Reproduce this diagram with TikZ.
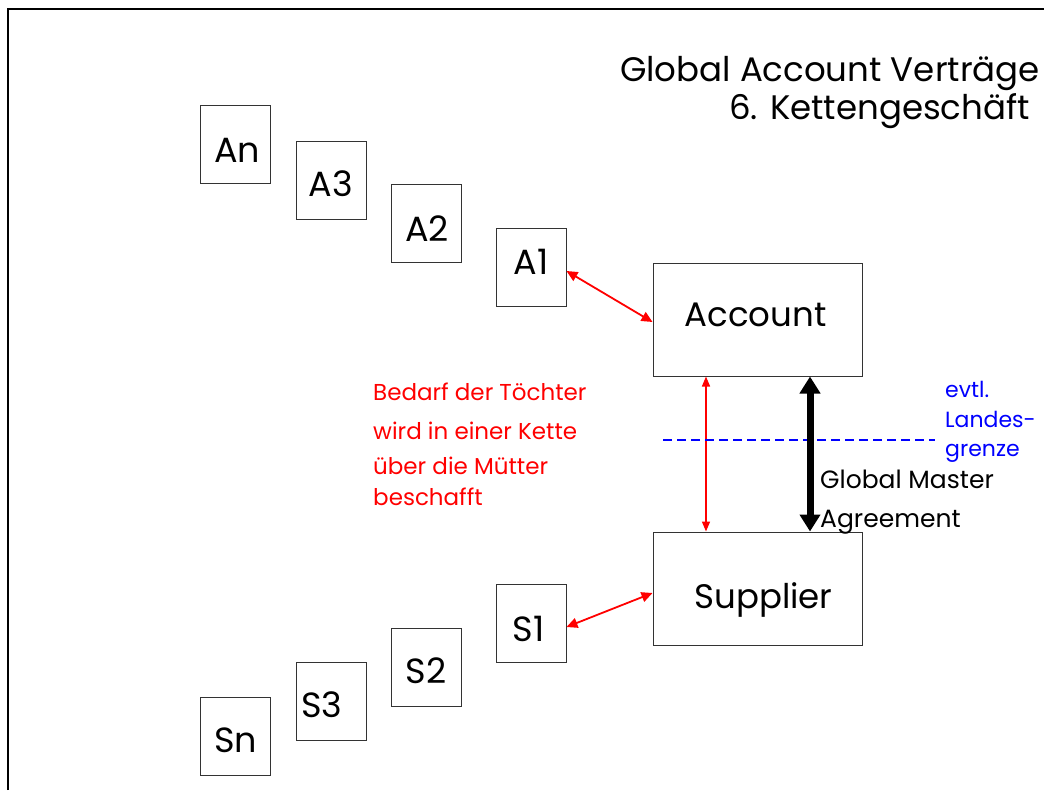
\documentclass[tikz,border=0pt]{standalone}
\usepackage{fontspec}
\setmainfont{Poppins}
\usetikzlibrary{arrows.meta}
\begin{document}
\begin{tikzpicture}[x=1pt,y=-1pt,
  sbox/.style={draw=black!80,line width=1pt,minimum width=70pt,minimum height=78pt,inner sep=0pt},
  bbox/.style={draw=black!80,line width=1pt,minimum width=209pt,minimum height=113pt,inner sep=0pt},
  slbl/.style={anchor=base,inner sep=0pt,font=\fontsize{35}{40}\selectfont},
  blbl/.style={anchor=base,inner sep=0pt,font=\fontsize{34}{40}\selectfont},
  redarr/.style={red,line width=1.8pt,{Triangle[length=11pt,width=10pt]}-{Triangle[length=11pt,width=10pt]}},
  redtxt/.style={red,anchor=base west,inner sep=0pt,font=\fontsize{23}{26}\selectfont},
  bluetxt/.style={blue,anchor=base west,inner sep=0pt,font=\fontsize{22}{26}\selectfont},
  blktxt/.style={black,anchor=base west,inner sep=0pt,font=\fontsize{25}{28}\selectfont}]
\useasboundingbox (0,0) rectangle (1044,790);
\fill[white] (0,0) rectangle (1044,790);
\draw[line width=2pt] (8,790) -- (8,9) -- (1044,9);
% title
\node[anchor=base east,inner sep=0pt,font=\fontsize{34}{40}\selectfont] (t1) at (1040,81.5) {Global Account Verträge};
\node[anchor=base east,inner sep=0pt,font=\fontsize{34}{40}\selectfont] (t2) at (1030,119) {6. Kettengeschäft};
% A chain
\node[sbox] (An) at (235,144.5) {};
\node[sbox] (A3) at (331,180) {};
\node[sbox] (A2) at (426,223.5) {};
\node[sbox] (A1) at (531,267) {};
\node[slbl] (tAn) at (237,162) {An};
\node[slbl] (tA3) at (331,196) {A3};
\node[slbl] (tA2) at (427,241) {A2};
\node[slbl] (tA1) at (531,274) {A1};
% S chain
\node[sbox] (S1) at (531,623) {};
\node[sbox] (S2) at (426,667) {};
\node[sbox] (S3) at (331,701.5) {};
\node[sbox] (Sn) at (235,736.5) {};
\node[slbl] (tS1) at (528.5,641) {S1};
\node[slbl] (tS2) at (426,683.5) {S2};
\node[slbl] (tS3) at (322,717.5) {S3};
\node[slbl] (tSn) at (235.5,752.5) {Sn};
% main boxes
\node[bbox] (acc) at (757.5,319.5) {};
\node[bbox] (sup) at (757.5,588.5) {};
\node[blbl] (tacc) at (755.5,326.5) {Account};
\node[blbl] (tsup) at (763.5,608) {Supplier};
% arrows
\draw[redarr] (A1.east |- 0,271) -- (acc.west |- 0,322);
\draw[redarr] (S1.east |- 0,627) -- (sup.west |- 0,593);
\draw[red,line width=1.5pt,{Triangle[length=10pt,width=8pt]}-{Triangle[length=10pt,width=8pt]}] (acc.south -| 706,0) -- (sup.north -| 706,0);
% border dashed line
\coordinate (dl) at (663,440);
\coordinate (dr) at (935,440);
\draw[blue,line width=2.2pt,dash pattern=on 9pt off 5pt] (dl) -- (dr);
\draw[black,line width=7pt,{Triangle[length=17pt,width=20pt]}-{Triangle[length=17pt,width=20pt]}] (acc.south -| 810,0) -- (sup.north -| 810,0);
% texts
\node[redtxt] (r1) at (373,400.5) {Bedarf der Töchter};
\node[redtxt] (r2) at (373,439) {wird in einer Kette};
\node[redtxt] (r3) at (373,474.5) {über die Mütter};
\node[redtxt] (r4) at (373,505) {beschafft};
\node[bluetxt] (b1) at (945,397) {evtl.};
\node[bluetxt] (b2) at (945,427) {Landes-};
\node[bluetxt] (b3) at (945,456) {grenze};
\node[blktxt] (g1) at (820,488) {Global Master};
\node[blktxt] (g2) at (820,527) {Agreement};
\end{tikzpicture}
\end{document}
